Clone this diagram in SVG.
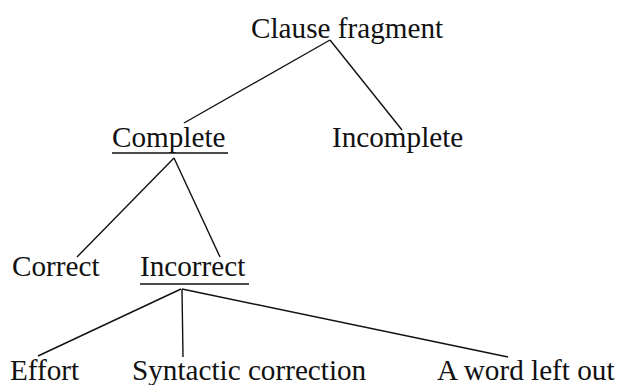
<svg xmlns="http://www.w3.org/2000/svg" width="622" height="385" viewBox="0 0 622 385">
<style>
text{font-family:"Liberation Serif","Times New Roman",serif;font-size:29.2px;fill:#111}
.e{stroke:#111;stroke-width:1.4;fill:none}
.u{stroke:#111;stroke-width:1.6}
</style>
<rect width="622" height="385" fill="#fff"/>
<g id="connectors">
<line class="e" x1="330" y1="40" x2="184" y2="123"/>
<line class="e" x1="330" y1="40" x2="402" y2="130"/>
<line class="e" x1="174" y1="158" x2="77" y2="257"/>
<line class="e" x1="174" y1="158" x2="220" y2="257"/>
<line class="e" x1="181" y1="289" x2="38" y2="356"/>
<line class="e" x1="182" y1="289" x2="183" y2="357"/>
<line class="e" x1="182" y1="289" x2="508" y2="357"/>
</g>
<g id="clause-fragment"><text x="251" y="38">Clause fragment</text></g>
<g id="complete"><text x="112" y="147">Complete</text><line class="u" x1="112" y1="153" x2="228" y2="153"/></g>
<g id="incomplete"><text x="332" y="147">Incomplete</text></g>
<g id="correct"><text x="12" y="276">Correct</text></g>
<g id="incorrect"><text x="140" y="276">Incorrect</text><line class="u" x1="140" y1="284" x2="249" y2="284"/></g>
<g id="effort"><text x="10" y="380">Effort</text></g>
<g id="syntactic-correction"><text x="132" y="380">Syntactic correction</text></g>
<g id="word-left-out"><text x="437" y="380">A word left out</text></g>
</svg>
